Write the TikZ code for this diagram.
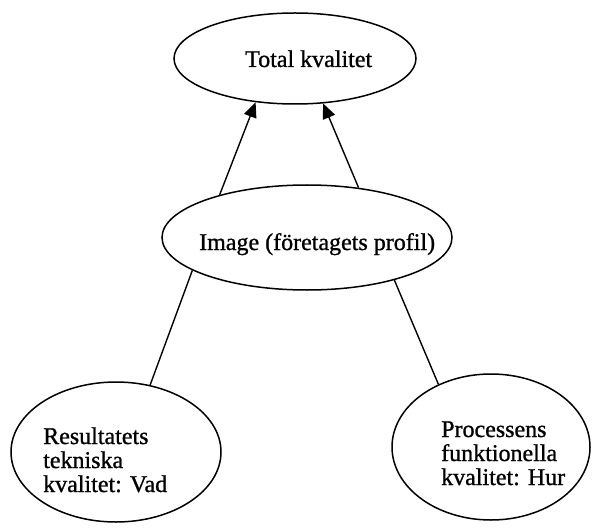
\documentclass[tikz,border=0pt]{standalone}
\usepackage{fontspec}
\setmainfont[FakeBold=1]{Liberation Serif}
\usetikzlibrary{shapes.geometric,arrows.meta}
\begin{document}
\begin{tikzpicture}[x=1pt,y=-1pt,
  oval/.style={draw,ellipse,line width=1.5pt,inner sep=0pt},
  lbl/.style={anchor=base west,inner sep=0pt,align=left,font=\fontsize{24}{24}\selectfont},
  conn/.style={line width=1.4pt},
  arr/.style={conn,-{Triangle[length=15pt,width=13pt]}}]
\useasboundingbox (0,0) rectangle (593,529);
\node[oval,minimum width=242pt,minimum height=91pt] (top) at (295,58.5) {};
\node[oval,minimum width=290pt,minimum height=105pt] (mid) at (307,237.5) {};
\node[oval,minimum width=210pt,minimum height=140pt] (left) at (116,452) {};
\node[oval,minimum width=198pt,minimum height=146pt] (right) at (491,447) {};
\node[lbl] (ttop) at (245,67) {Total kvalitet};
\node[lbl] (tmid) at (199,250) {Image (företagets profil)};
\node[lbl] (tleft) at (43,492) {Resultatets\\tekniska\\kvalitet: Vad};
\node[lbl] (tright) at (441,485) {Processens\\funktionella\\kvalitet: Hur};
\draw[arr] (mid.154) -- (top.-132);
\draw[arr] (mid.44) -- (top.-58);
\draw[conn] (mid.196) -- (left.63);
\draw[conn] (mid.-26) -- (right.130);
\end{tikzpicture}
\end{document}
